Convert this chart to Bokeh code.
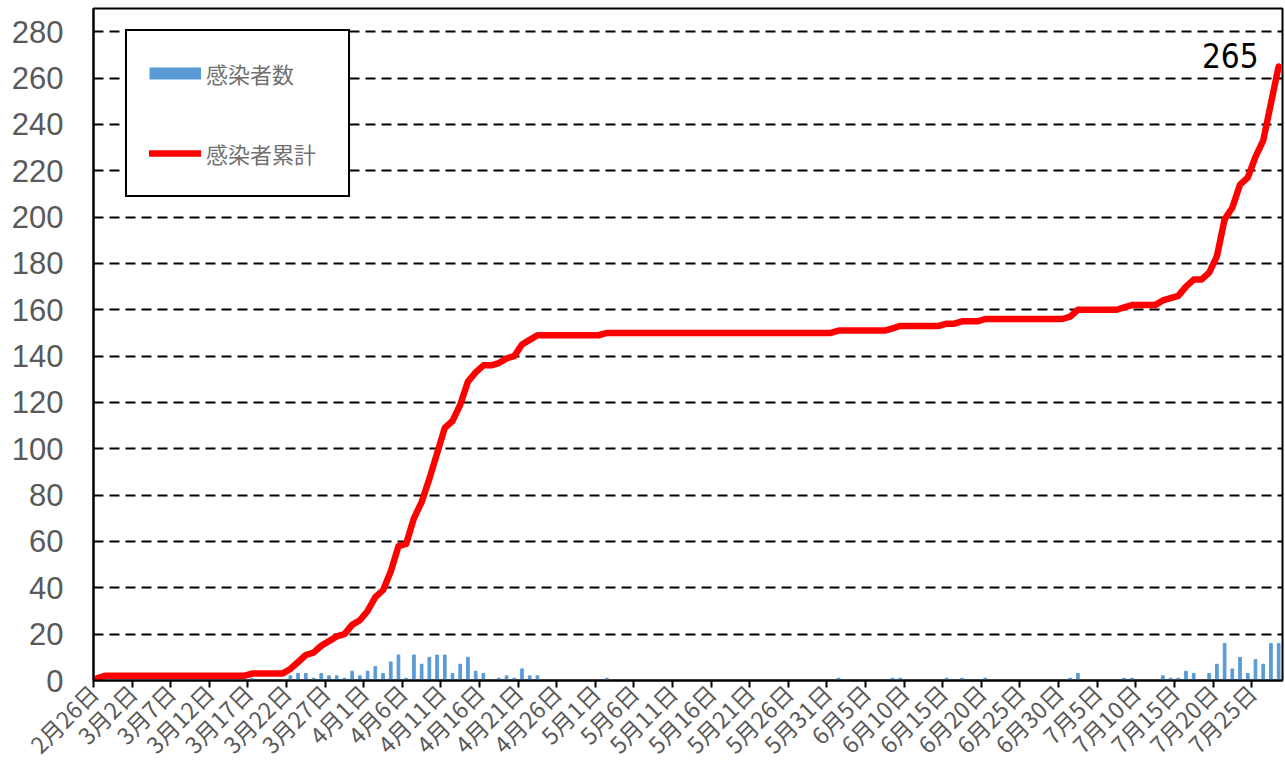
from bokeh.plotting import figure
from bokeh.models import Range1d, FixedTicker, Legend, LegendItem
from bokeh.embed import file_html
from bokeh.resources import INLINE
from bokeh.core.properties import value

# ---- data ----
# day index 0 = 2月26日, last index 153 = 7月28日
daily_cases = [
    1, 1, 0, 0, 0, 0, 0, 0, 0, 0,
    0, 0, 0, 0, 0, 0, 0, 0, 0, 0,
    1, 0, 0, 0, 0, 2, 3, 3, 1, 3,
    2, 2, 1, 4, 2, 4, 6, 3, 8, 11,
    1, 11, 7, 10, 11, 11, 3, 7, 10, 4,
    3, 0, 1, 2, 1, 5, 2, 2, 0, 0,
    0, 0, 0, 0, 0, 0, 1, 0, 0, 0,
    0, 0, 0, 0, 0, 0, 0, 0, 0, 0,
    0, 0, 0, 0, 0, 0, 0, 0, 0, 0,
    0, 0, 0, 0, 0, 0, 1, 0, 0, 0,
    0, 0, 0, 1, 1, 0, 0, 0, 0, 0,
    1, 0, 1, 0, 0, 1, 0, 0, 0, 0,
    0, 0, 0, 0, 0, 0, 1, 3, 0, 0,
    0, 0, 0, 1, 1, 0, 0, 0, 2, 1,
    1, 4, 3, 0, 3, 7, 16, 5, 10, 3,
    9, 7, 16, 16,
]
cumulative_cases = [
    1, 2, 2, 2, 2, 2, 2, 2, 2, 2,
    2, 2, 2, 2, 2, 2, 2, 2, 2, 2,
    3, 3, 3, 3, 3, 5, 8, 11, 12, 15,
    17, 19, 20, 24, 26, 30, 36, 39, 47, 58,
    59, 70, 77, 87, 98, 109, 112, 119, 129, 133,
    136, 136, 137, 139, 140, 145, 147, 149, 149, 149,
    149, 149, 149, 149, 149, 149, 150, 150, 150, 150,
    150, 150, 150, 150, 150, 150, 150, 150, 150, 150,
    150, 150, 150, 150, 150, 150, 150, 150, 150, 150,
    150, 150, 150, 150, 150, 150, 151, 151, 151, 151,
    151, 151, 151, 152, 153, 153, 153, 153, 153, 153,
    154, 154, 155, 155, 155, 156, 156, 156, 156, 156,
    156, 156, 156, 156, 156, 156, 157, 160, 160, 160,
    160, 160, 160, 161, 162, 162, 162, 162, 164, 165,
    166, 170, 173, 173, 176, 183, 199, 204, 214, 217,
    226, 233, 249, 265,
]
tick_days = [0, 5, 10, 15, 20, 25, 30, 35, 40, 45, 50, 55, 60, 65, 70, 75,
             80, 85, 90, 95, 100, 105, 110, 115, 120, 125, 130, 135, 140, 145, 150]
tick_labels = ["2月26日", "3月2日", "3月7日", "3月12日", "3月17日", "3月22日", "3月27日",
               "4月1日", "4月6日", "4月11日", "4月16日", "4月21日", "4月26日",
               "5月1日", "5月6日", "5月11日", "5月16日", "5月21日", "5月26日", "5月31日",
               "6月5日", "6月10日", "6月15日", "6月20日", "6月25日", "6月30日",
               "7月5日", "7月10日", "7月15日", "7月20日", "7月25日"]
y_ticks = [0, 20, 40, 60, 80, 100, 120, 140, 160, 180, 200, 220, 240, 260, 280]
series_names = ["感染者数", "感染者累計"]

days = list(range(len(daily_cases)))

# ---- figure ----
p = figure(width=1284, height=775, output_backend="svg", toolbar_location=None,
           x_range=Range1d(-0.5, len(days) - 0.5), y_range=Range1d(0, 290),
           min_border_left=93, min_border_right=2, min_border_top=8, min_border_bottom=95,
           background_fill_color="white", border_fill_color="white")

p.outline_line_color = "black"
p.outline_line_width = 2

# grid
p.xgrid.visible = False
p.ygrid.ticker = FixedTicker(ticks=y_ticks[1:])
p.ygrid.grid_line_color = "black"
p.ygrid.grid_line_width = 2
p.ygrid.grid_line_dash = "10 6"

# y axis
p.yaxis.ticker = FixedTicker(ticks=y_ticks)
p.yaxis.major_tick_out = 0
p.yaxis.major_tick_in = 0
p.yaxis.minor_tick_line_color = None
p.yaxis.axis_line_color = "black"
p.yaxis.axis_line_width = 2
p.yaxis.major_label_text_font = "Liberation Sans"
p.yaxis.major_label_text_font_size = "31px"
p.yaxis.major_label_text_color = "#595959"
p.yaxis.major_label_standoff = 30

# x axis: ticks on day boundaries, labels for each 5th day
x_tick_pos = [d - 0.5 for d in tick_days]
p.xaxis.ticker = FixedTicker(ticks=x_tick_pos)
p.xaxis.major_label_overrides = {pos: lab for pos, lab in zip(x_tick_pos, tick_labels)}
p.xaxis.major_tick_out = 7
p.xaxis.major_tick_in = 0
p.xaxis.major_tick_line_width = 2
p.xaxis.minor_tick_line_color = None
p.xaxis.axis_line_color = "black"
p.xaxis.axis_line_width = 2
p.xaxis.major_label_orientation = 0.785398
p.xaxis.major_label_text_font = "Noto Sans CJK JP"
p.xaxis.major_label_text_font_size = "23px"
p.xaxis.major_label_text_color = "#595959"
p.xaxis.major_label_standoff = 1

# bars (daily)
p.vbar(x=days, top=daily_cases, width=0.35, color="#5B9BD5")

# line (cumulative)
line_r = p.line(days, cumulative_cases, line_width=6.5, color="#FF0000",
                line_join="round", line_cap="round")

# final value label
p.text(x=[days[-1]], y=[cumulative_cases[-1]], text=[str(cumulative_cases[-1])],
       text_font=value("'DejaVu Sans Condensed', 'Liberation Sans'"), text_font_size="33px",
       text_align="right", text_baseline="alphabetic", text_color="black",
       x_offset=-20, y_offset=-11)

# legend key for the bars (off-range so it only shows in the legend)
blue_key = p.line([-20, -19], [-20, -20], line_width=12, color="#5B9BD5", line_cap="butt")
legend = Legend(items=[LegendItem(label=series_names[0], renderers=[blue_key]),
                       LegendItem(label=series_names[1], renderers=[line_r])],
                location=(32, 483))
legend.label_text_font = "Noto Sans CJK JP"
legend.label_text_font_size = "22px"
legend.label_text_color = "#707070"
legend.glyph_width = 52
legend.glyph_height = 40
legend.label_height = 40
legend.label_width = 120
legend.label_standoff = 5
legend.spacing = 40
legend.padding = 22
legend.margin = 0
legend.border_line_color = "black"
legend.border_line_alpha = 1.0
legend.border_line_width = 2
legend.background_fill_color = "white"
legend.background_fill_alpha = 1.0
p.add_layout(legend)

open("out.html", "w").write(file_html(p, INLINE))
